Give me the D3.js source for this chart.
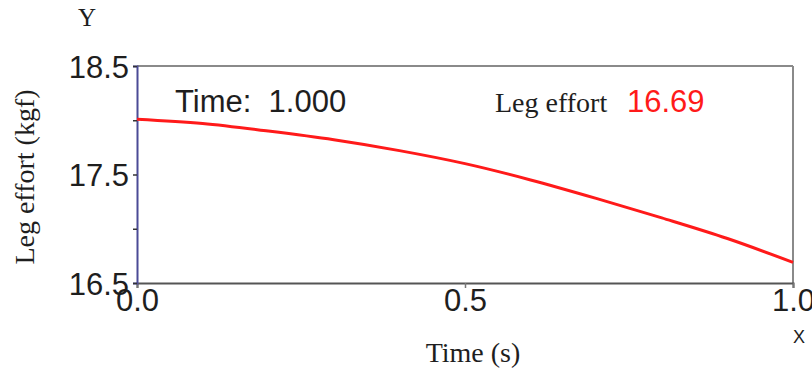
<!DOCTYPE html>
<html><head><meta charset="utf-8">
<script src="https://cdn.jsdelivr.net/npm/d3@7"></script>
<style>body{margin:0;background:#fff}svg{display:block}</style>
</head><body>
<script>
const timeValues = [0.0, 0.1, 0.2, 0.3, 0.4, 0.5, 0.6, 0.7, 0.8, 0.9, 1.0];
const legEffort = [18.01, 17.97, 17.90, 17.82, 17.72, 17.60, 17.45, 17.28, 17.10, 16.91, 16.69];
const yTickLabels = ["16.5", "17.5", "18.5"];
const xTickLabels = ["0.0", "0.5", "1.0"];
const currentTime = "1.000";
const currentValue = "16.69";

const W = 812, H = 370;
const m = {left: 137, right: 793, top: 66, bottom: 283};
const svg = d3.select("body").append("svg").attr("width", W).attr("height", H);
const x = d3.scaleLinear().domain([0, 1]).range([m.left, m.right]);
const y = d3.scaleLinear().domain([16.5, 18.5]).range([m.bottom, m.top]);
const sans = "Arial, 'Liberation Sans', sans-serif";
const serif = "'Times New Roman', 'Liberation Serif', serif";

// frame
svg.append("line").attr("x1", m.left).attr("x2", m.right).attr("y1", m.top).attr("y2", m.top).attr("stroke", "#8a8a8a").attr("stroke-width", 2);
svg.append("line").attr("x1", m.right).attr("x2", m.right).attr("y1", m.top).attr("y2", m.bottom).attr("stroke", "#8a8a8a").attr("stroke-width", 2);

// bottom axis
const xAxis = d3.axisBottom(x).tickValues(xTickLabels.map(Number)).tickSize(5).tickFormat(d3.format(".1f"));
const gx = svg.append("g").attr("transform", `translate(0,${m.bottom})`).call(xAxis);
gx.select(".domain").attr("stroke", "#555").attr("stroke-width", 2);
gx.selectAll(".tick line").attr("stroke", "#777").attr("stroke-width", 1.5);
gx.selectAll(".tick text").attr("font-family", sans).attr("font-size", 31).attr("fill", "#1e1e1e").attr("y", 6).attr("dy", "0.71em");

// left axis
const yAxis = d3.axisLeft(y).tickValues([16.5, 17.0, 17.5, 18.0, 18.5]).tickSize(4)
  .tickFormat(d => yTickLabels.includes(d.toFixed(1)) ? d.toFixed(1) : "");
const gy = svg.append("g").attr("transform", `translate(${m.left},0)`).call(yAxis);
gy.select(".domain").attr("stroke", "#4b4b96").attr("stroke-width", 2);
gy.selectAll(".tick line").attr("stroke", "#333").attr("stroke-width", 1.5);
gy.selectAll(".tick text").attr("font-family", sans).attr("font-size", 31).attr("fill", "#1e1e1e").attr("x", -8).attr("dy", "0.36em");

// line
const line = d3.line().x((d, i) => x(timeValues[i])).y(d => y(d)).curve(d3.curveMonotoneX);
svg.append("path").datum(legEffort).attr("d", line).attr("fill", "none").attr("stroke", "#ff1a1a").attr("stroke-width", 3);

// labels
svg.append("text").attr("x", 87).attr("y", 26).attr("text-anchor", "middle").attr("font-family", serif).attr("font-size", 25).attr("fill", "#1e1e1e").text("Y");
svg.append("text").attr("x", 799).attr("y", 343).attr("text-anchor", "middle").attr("font-family", sans).attr("font-size", 18).attr("fill", "#1e1e1e").text("X");
svg.append("text").attr("transform", "translate(34,177) rotate(-90)").attr("text-anchor", "middle").attr("font-family", serif).attr("font-size", 28).attr("fill", "#1e1e1e").text("Leg effort (kgf)");
svg.append("text").attr("x", 473).attr("y", 362).attr("text-anchor", "middle").attr("font-family", serif).attr("font-size", 28).attr("fill", "#1e1e1e").text("Time (s)");
svg.append("text").attr("x", 175).attr("y", 112).attr("font-family", sans).attr("font-size", 31).attr("fill", "#1e1e1e").attr("xml:space", "preserve").style("white-space", "pre").text("Time:  " + currentTime);
svg.append("text").attr("x", 495).attr("y", 112).attr("font-family", serif).attr("font-size", 28).attr("fill", "#1e1e1e").text("Leg effort");
svg.append("text").attr("x", 627).attr("y", 112).attr("font-family", sans).attr("font-size", 31).attr("fill", "#ff1a1a").text(currentValue);
</script>
</body></html>
